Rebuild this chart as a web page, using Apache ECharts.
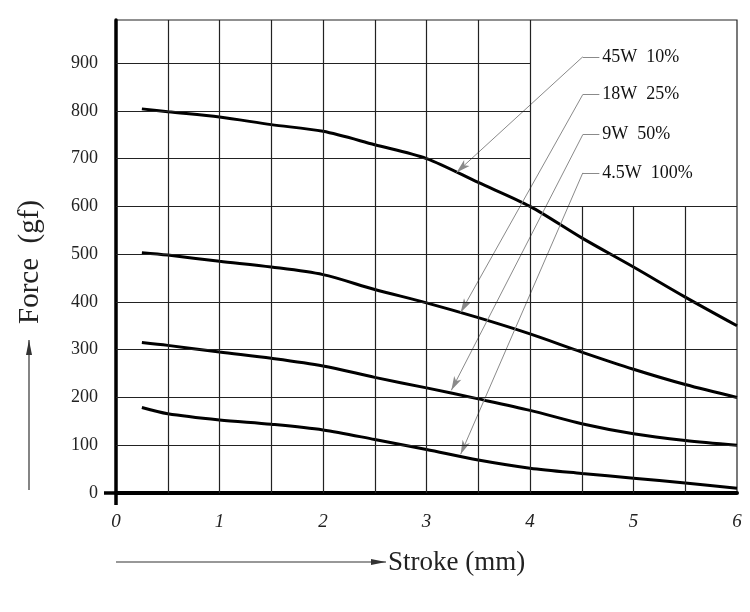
<!DOCTYPE html>
<html><head><meta charset="utf-8">
<script src="https://cdn.jsdelivr.net/npm/echarts@6/dist/echarts.min.js"></script>
<style>html,body{margin:0;padding:0;background:#fff}#c{width:750px;height:612px}</style>
</head><body><div id="c"></div>
<script>
// ---- data ----
const xTicks = [0, 1, 2, 3, 4, 5, 6];
const yTicks = [0, 100, 200, 300, 400, 500, 600, 700, 800, 900];
const stroke = [0.25, 0.5, 1, 1.5, 2, 2.5, 3, 3.5, 4, 4.5, 5, 5.5, 6];
const force45W = [804, 798, 787, 771, 757, 729, 700, 650, 600, 534, 473, 410, 350];
const force18W = [503, 498, 485, 473, 457, 426, 398, 367, 333, 295, 259, 227, 200];
const force9W  = [315, 309, 295, 282, 266, 242, 220, 197, 173, 145, 124, 110, 100];
const force4W  = [179, 166, 153, 144, 132, 112, 91, 69, 52, 41, 31, 21, 10];
const seriesNames = ['45W  10%', '18W  25%', '9W  50%', '4.5W  100%'];
// annotation leaders: label line height (gf) and arrow tip [stroke, force]
const leaderY = [913, 834, 750, 670];
const arrowTip = [[3.29, 671], [3.33, 378], [3.24, 215], [3.33, 81]];
const leaderX = [4.51, 4.67];
// grid lines
const vFull = [0.5, 1, 1.5, 2, 2.5, 3, 3.5, 4];
const vPartial = [4.5, 5, 5.5];      // run from 0 to 600
const hFull = [100, 200, 300, 400, 500, 600];
const hPartial = [700, 800, 900];    // run from 0 to 4
const yMax = 990;

const allForces = [force45W, force18W, force9W, force4W];
const gridColor = '#222';
const gridLines = [];
vFull.forEach(v => gridLines.push({ xAxis: v }));
vPartial.forEach(v => gridLines.push([{ coord: [v, 0] }, { coord: [v, 600] }]));
hFull.forEach(v => gridLines.push({ yAxis: v }));
hPartial.forEach(v => gridLines.push([{ coord: [0, v] }, { coord: [4, v] }]));

const series = [{
  type: 'line', data: [], z: 1, silent: true,
  markLine: {
    silent: true, symbol: ['none', 'none'], animation: false,
    label: { show: false },
    lineStyle: { color: gridColor, width: 1.2, type: 'solid' },
    data: gridLines
  }
}];

allForces.forEach((arr, i) => {
  series.push({
    name: seriesNames[i], type: 'line', z: 3,
    data: stroke.map((x, k) => [x, arr[k]]),
    smooth: 0.3, showSymbol: false, symbol: 'none',
    lineStyle: { color: '#000', width: 3 },
    markLine: {
      silent: true, animation: false, z: 4,
      lineStyle: { color: '#8a8a8a', width: 1, type: 'solid' },
      data: [
        [{ coord: [leaderX[0], leaderY[i]], symbol: 'none', label: { show: false } },
         { coord: arrowTip[i], symbol: 'arrow', symbolSize: [6, 14] }],
        [{ coord: [leaderX[0], leaderY[i]], symbol: 'none',
           label: { show: true, position: 'end', formatter: seriesNames[i], distance: 3,
                    color: '#111', fontSize: 18, fontFamily: 'Liberation Serif' } },
         { coord: [leaderX[1], leaderY[i]], symbol: 'none' }]
      ],
      label: { show: false }
    }
  });
});

function arrowGraphic(x1, y1, x2, y2, dir) {
  const items = [{ type: 'line', shape: { x1, y1, x2, y2 }, style: { stroke: '#333', lineWidth: 1.2 } }];
  let pts;
  if (dir === 'up') pts = [[x2, y2], [x2 - 3, y2 + 15], [x2 + 3, y2 + 15]];
  else pts = [[x2, y2], [x2 - 15, y2 - 3], [x2 - 15, y2 + 3]];
  items.push({ type: 'polygon', shape: { points: pts }, style: { fill: '#333' } });
  return items;
}

const chart = echarts.init(document.getElementById('c'), null, { renderer: 'canvas' });
chart.setOption({
  animation: false,
  backgroundColor: '#fff',
  grid: { left: 116, right: 13, top: 20, bottom: 119, show: true, borderColor: gridColor, borderWidth: 1.2, backgroundColor: 'transparent' },
  xAxis: {
    type: 'value', min: 0, max: 6, interval: 0.5,
    axisLine: { show: true, onZero: false, lineStyle: { color: '#000', width: 4 } },
    axisTick: { show: true, customValues: [0], length: 12, lineStyle: { color: '#000', width: 3.5 } },
    splitLine: { show: false },
    axisLabel: { customValues: xTicks, margin: 19, color: '#222', fontSize: 19, fontStyle: 'italic', fontFamily: 'Liberation Serif' }
  },
  yAxis: {
    type: 'value', min: 0, max: yMax, interval: 100,
    axisLine: { show: true, onZero: false, lineStyle: { color: '#000', width: 3.5 } },
    axisTick: { show: true, customValues: [0], length: 12, lineStyle: { color: '#000', width: 3.5 } },
    splitLine: { show: false },
    axisLabel: { customValues: yTicks, margin: 18, color: '#222', fontSize: 18, fontFamily: 'Liberation Serif' }
  },
  series: series,
  graphic: [
    ...arrowGraphic(29, 490, 29, 340, 'up'),
    ...arrowGraphic(116, 562, 386, 562, 'right'),
    { type: 'text', x: 30, y: 262, rotation: Math.PI / 2,
      style: { text: 'Force  (gf)', fill: '#222', font: '29px "Liberation Serif"', align: 'center', verticalAlign: 'middle' } },
    { type: 'text', x: 388, y: 563,
      style: { text: 'Stroke (mm)', fill: '#222', font: '27px "Liberation Serif"', align: 'left', verticalAlign: 'middle' } }
  ]
});
</script></body></html>
